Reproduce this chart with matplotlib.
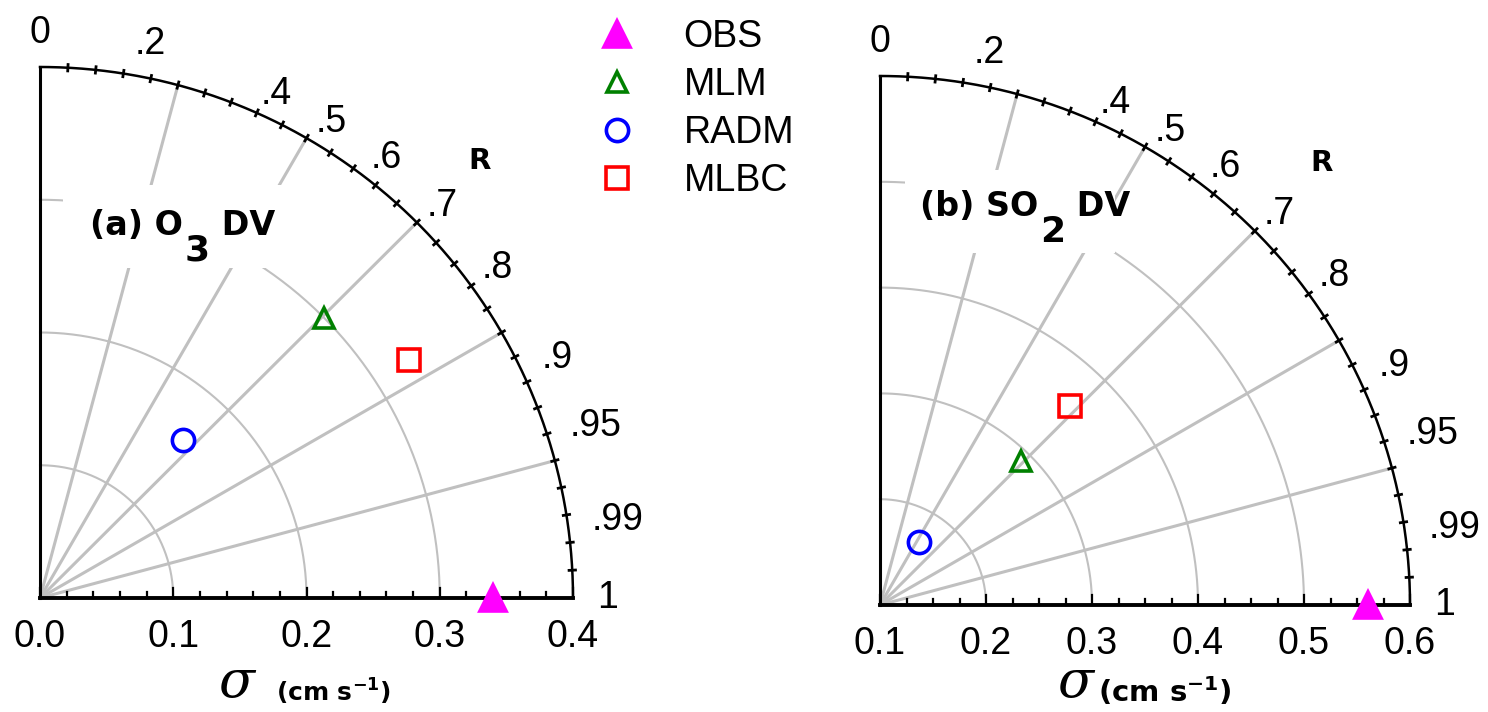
import numpy as np
import matplotlib.pyplot as plt
from matplotlib.patches import Rectangle

MODELS = ["OBS", "MLM", "RADM", "MLBC"]

# (a) O3 deposition velocity
O3_STD = [0.34, 0.30, 0.16, 0.33]
O3_CORR = [1.0, 0.71, 0.67, 0.84]
O3_STD_TICKS = [0.0, 0.1, 0.2, 0.3, 0.4]

# (b) SO2 deposition velocity, sigma axis starts at 0.1
SO2_STD = [0.56, 0.29, 0.17, 0.36]
SO2_CORR = [1.0, 0.70, 0.52, 0.69]
SO2_STD_TICKS = [0.1, 0.2, 0.3, 0.4, 0.5, 0.6]

CORR_TICKS = [0, 0.2, 0.4, 0.5, 0.6, 0.7, 0.8, 0.9, 0.95, 0.99, 1.0]
CORR_LABELS = ["0", ".2", ".4", ".5", ".6", ".7", ".8", ".9", ".95", ".99", "1"]

MARKERS = ["^", "^", "o", "s"]
FACES = ["#ff00ff", "none", "none", "none"]
EDGES = ["#ff00ff", "#008000", "#0000ff", "#ff0000"]
MSIZES = [19, 15, 16, 16]
GREY = "#c0c0c0"
TICKFONT = "Liberation Sans"
BOLDFONT = "DejaVu Sans"

W, H = 1488, 712


def px_axes(fig, x0, y0, x1, y1):
    # pixel box (origin at top-left) -> axes
    return fig.add_axes([x0 / W, 1 - y1 / H, (x1 - x0) / W, (y1 - y0) / H])


def title(ax, xy, head, sub, tail, mask):
    ax.add_patch(Rectangle((mask[0], mask[1]), mask[2] - mask[0], mask[3] - mask[1],
                           transform=ax.transAxes, fc="white", ec="none", zorder=2))
    kw = dict(fontweight="bold", family=BOLDFONT, ha="left", zorder=4)
    t1 = ax.text(xy[0], xy[1], head, transform=ax.transAxes, fontsize=24,
                 va="baseline", **kw)
    # big subscript hanging below the baseline
    t2 = ax.annotate(sub, xy=(1, 0), xycoords=t1, xytext=(1.5, 6),
                     textcoords="offset points", fontsize=26, va="top", **kw)
    ax.annotate(tail, xy=(1, 0), xycoords=(t2, t1), xytext=(0, 0),
                textcoords="offset points", fontsize=24, va="bottom", **kw)


def taylor(ax, std, corr, ticks, minor, r_xy):
    s0 = ticks[0]
    rmax = ticks[-1] - s0
    ax.set_xlim(0, rmax)
    ax.set_ylim(0, rmax)
    ax.axis("off")
    t = np.linspace(0, np.pi / 2, 300)

    # grey std arcs and correlation rays
    for s in ticks[1:-1]:
        r = s - s0
        ax.plot(r * np.cos(t), r * np.sin(t), color=GREY, lw=1.5, zorder=1, clip_on=False)
    for deg in range(15, 90, 15):
        a = np.radians(deg)
        ax.plot([0, rmax * np.cos(a)], [0, rmax * np.sin(a)], color=GREY, lw=2.2,
                zorder=1, clip_on=False)

    # black frame
    ax.plot(rmax * np.cos(t), rmax * np.sin(t), color="k", lw=1.8, zorder=3, clip_on=False)
    ax.plot([0, 0], [0, rmax], color="k", lw=2.2, zorder=3, clip_on=False)
    ax.plot([0, rmax], [0, 0], color="k", lw=2.8, zorder=3, clip_on=False)

    # small ticks on the arc, every 3 degrees
    for deg in range(3, 90, 3):
        a = np.radians(deg)
        r = np.array([rmax * 0.994, rmax * 1.006])
        ax.plot(r * np.cos(a), r * np.sin(a), color="k", lw=2.0, zorder=3, clip_on=False)

    # ticks on the sigma axis
    for v in np.arange(s0, ticks[-1] + 1e-9, minor):
        major = any(abs(v - m) < 1e-6 for m in ticks)
        ln = 0.019 if major else 0.012
        ax.plot([v - s0, v - s0], [0, ln * rmax], color="k", lw=1.6, zorder=3, clip_on=False)
    for v in ticks:
        ax.annotate(f"{v:.1f}", (v - s0, 0), xytext=(0, -15), textcoords="offset points",
                    ha="center", va="top", fontsize=27, family=TICKFONT)

    # correlation labels
    for c, lab in zip(CORR_TICKS, CORR_LABELS):
        a = np.arccos(c)
        if np.degrees(a) >= 70:
            ax.text(1.03 * rmax * np.cos(a), 1.03 * rmax * np.sin(a), lab,
                    ha="center", va="bottom", fontsize=27, family=TICKFONT)
        else:
            ax.text(1.035 * rmax * np.cos(a) + 0.01 * rmax * (c >= 0.9),
                    1.035 * rmax * np.sin(a), lab,
                    ha="left", va="center", fontsize=27, family=TICKFONT)

    ax.text(r_xy[0] * rmax, r_xy[1] * rmax, "R", fontsize=21, fontweight="bold",
            family=BOLDFONT, ha="center", va="center")

    handles = []
    for i, name in enumerate(MODELS):
        r = std[i] - s0
        a = np.arccos(corr[i])
        h, = ax.plot(r * np.cos(a), r * np.sin(a), MARKERS[i], ms=MSIZES[i],
                     mfc=FACES[i], mec=EDGES[i], mew=2.6, label=name,
                     zorder=5, clip_on=False)
        handles.append(h)
    return handles


fig = plt.figure(figsize=(W / 100, H / 100), dpi=100)

ax1 = px_axes(fig, 40, 67, 573, 598)
handles = taylor(ax1, O3_STD, O3_CORR, O3_STD_TICKS, 0.02, (0.825, 0.823))
title(ax1, (0.094, 0.684), "(a) O", "3", " DV", (0.043, 0.621, 0.473, 0.778))

ax2 = px_axes(fig, 880, 76, 1410, 605)
taylor(ax2, SO2_STD, SO2_CORR, SO2_STD_TICKS, 0.025, (0.834, 0.836))
title(ax2, (0.075, 0.735), "(b) SO", "2", " DV", (0.047, 0.665, 0.443, 0.822))

fig.legend(handles, MODELS, loc="upper left", bbox_to_anchor=(579 / W, 1.0),
           frameon=False, prop={"family": TICKFONT, "size": 27}, borderpad=0,
           handletextpad=1.29, labelspacing=0.32, handlelength=1.0)

# sigma axis labels
for xs, xt, fs in ((238 / W, 276 / W, 18), (1077 / W, 1098 / W, 21)):
    fig.text(xs, 1 - 708 / H, r"$\sigma$", fontsize=38, math_fontfamily="dejavuserif",
             ha="center", va="bottom")
    fig.text(xt, 1 - 702 / H, r"(cm s$^{\mathbf{-1}}$)", fontsize=fs, fontweight="bold",
             family=BOLDFONT, ha="left", va="baseline")

fig.savefig("out.png", dpi=100)
